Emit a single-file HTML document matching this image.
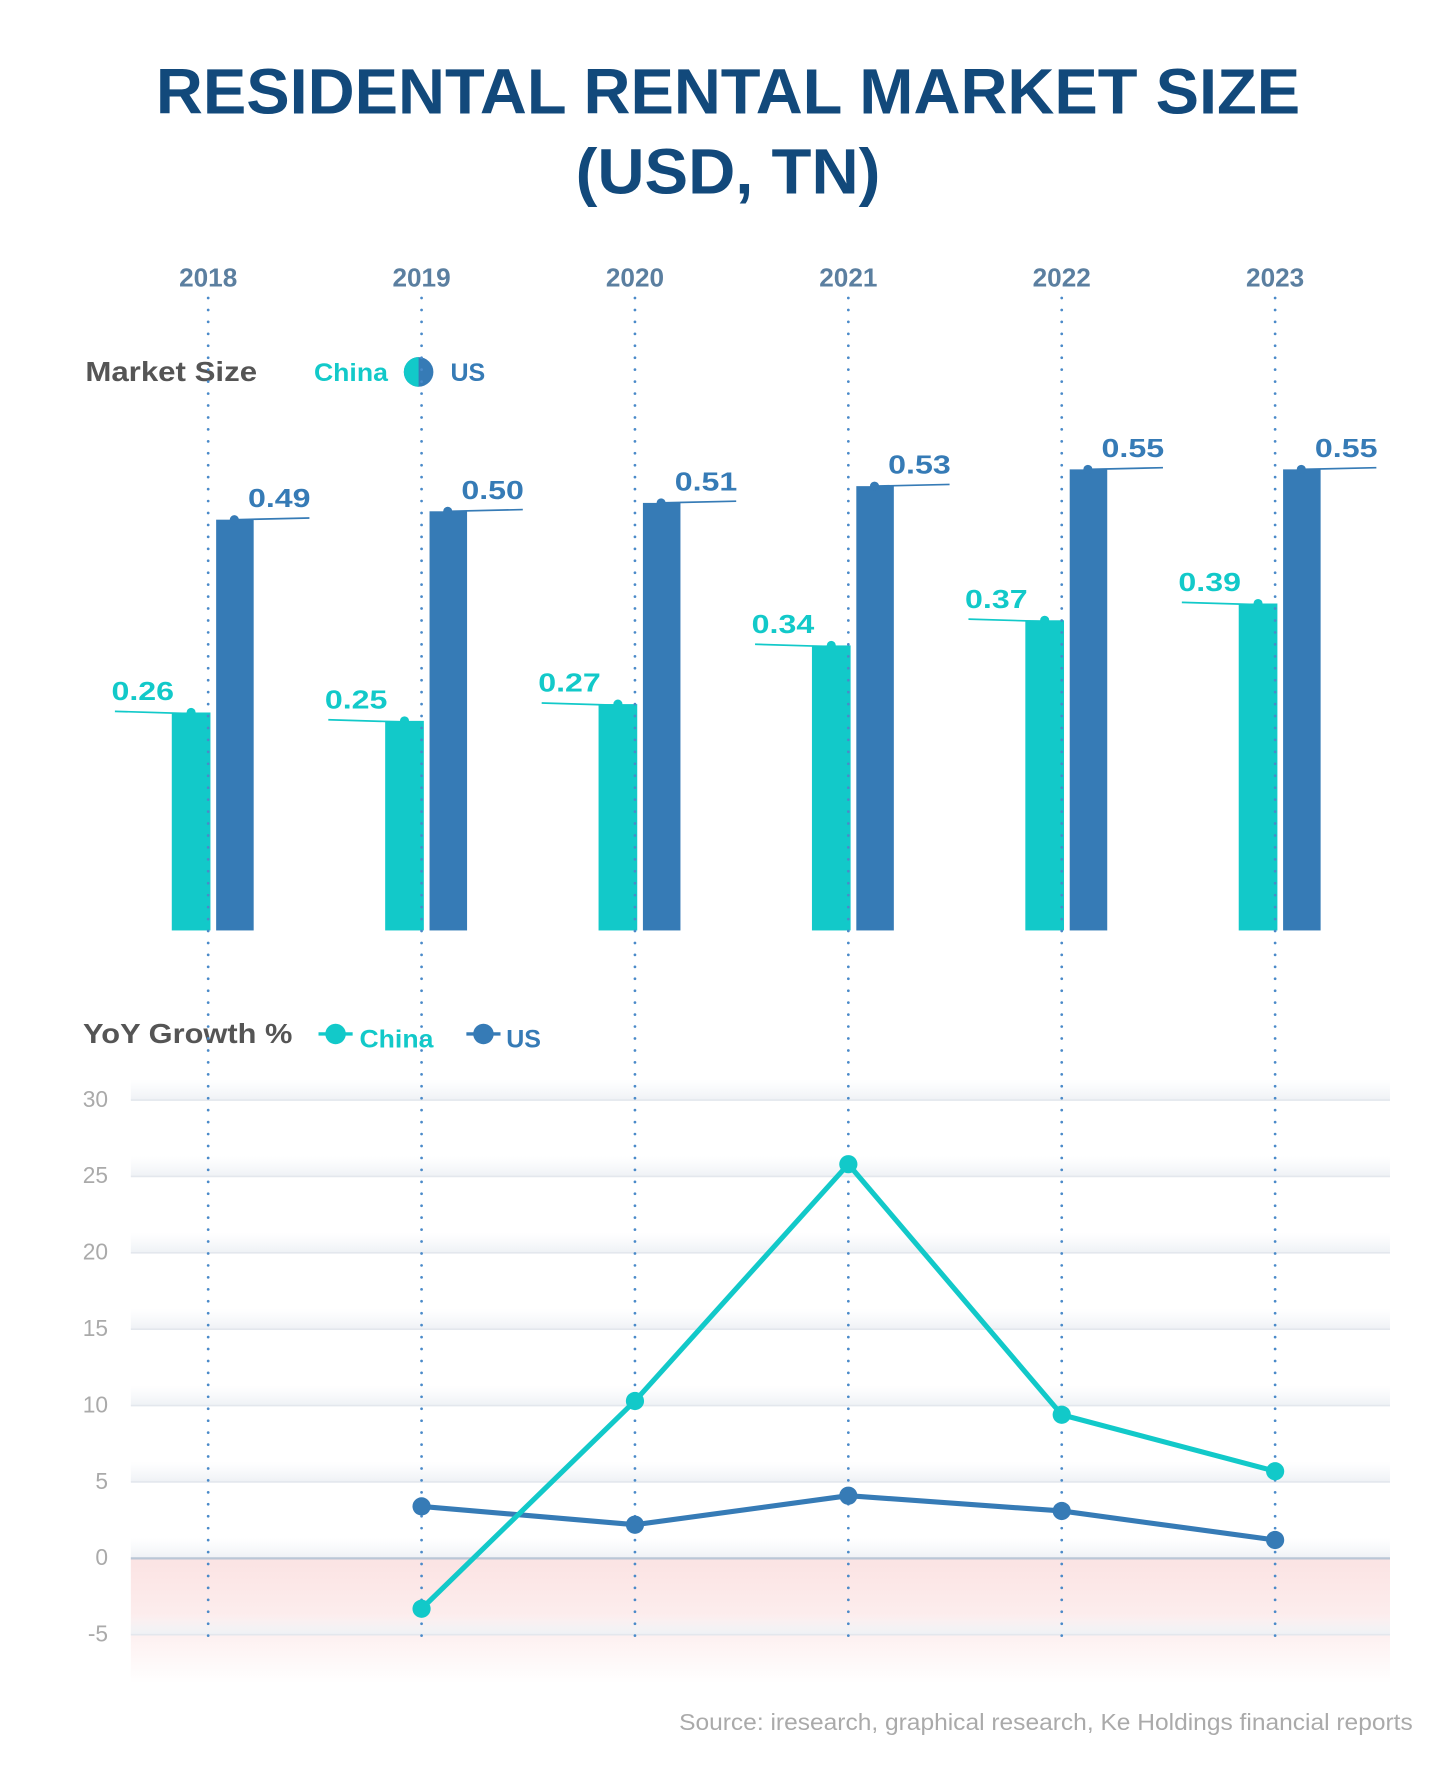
<!DOCTYPE html>
<html><head><meta charset="utf-8"><style>
html,body{margin:0;padding:0;background:#fff;}
svg{display:block;font-family:"Liberation Sans",sans-serif;}
</style></head><body>
<svg id="chart" width="1456" height="1784" viewBox="0 0 1280 1568.4" xmlns="http://www.w3.org/2000/svg">
<defs>
<linearGradient id="gridShade" x1="0" y1="0" x2="0" y2="1"><stop offset="0" stop-color="#f4f6f9" stop-opacity="0"/><stop offset="1" stop-color="#eef1f5" stop-opacity="1"/></linearGradient>
<linearGradient id="negBand" x1="0" y1="0" x2="0" y2="1"><stop offset="0" stop-color="#fbe3e3"/><stop offset="0.6" stop-color="#fdf0f0"/><stop offset="1" stop-color="#ffffff"/></linearGradient>
<clipPath id="halfL"><rect x="340" y="300" width="28" height="60"/></clipPath>
</defs>
<text x="640" y="100" text-anchor="middle" font-size="56" font-weight="bold" fill="#12497b" textLength="1006" lengthAdjust="spacingAndGlyphs">RESIDENTAL RENTAL MARKET SIZE</text>
<text x="640" y="170" text-anchor="middle" font-size="56" font-weight="bold" fill="#12497b" textLength="268" lengthAdjust="spacingAndGlyphs">(USD, TN)</text>
<g id="years"></g>
<text x="75" y="335" font-size="24" font-weight="bold" fill="#555" textLength="151" lengthAdjust="spacingAndGlyphs">Market Size</text>
<text x="276" y="335" font-size="22" font-weight="bold" fill="#12c9c9" textLength="65" lengthAdjust="spacingAndGlyphs">China</text>
<circle cx="368" cy="327" r="13" fill="#367bb6"/>
<circle cx="368" cy="327" r="13" fill="#12c9c9" clip-path="url(#halfL)"/>
<text x="396" y="335" font-size="22" font-weight="bold" fill="#367bb6">US</text>
<g id="bars"></g>
<text x="73" y="917" font-size="24" font-weight="bold" fill="#555" textLength="184" lengthAdjust="spacingAndGlyphs">YoY Growth %</text>
<line x1="280" y1="909" x2="310" y2="909" stroke="#12c9c9" stroke-width="3"/>
<circle cx="295" cy="909" r="9" fill="#12c9c9"/>
<text x="316" y="921" font-size="22" font-weight="bold" fill="#12c9c9" textLength="65" lengthAdjust="spacingAndGlyphs">China</text>
<line x1="410" y1="909" x2="440" y2="909" stroke="#367bb6" stroke-width="3"/>
<circle cx="425" cy="909" r="9" fill="#367bb6"/>
<text x="445" y="921" font-size="22" font-weight="bold" fill="#367bb6">US</text>
<g id="grid"></g>
<g id="vlines"></g>
<g id="lines"></g>
<text x="1242" y="1521" text-anchor="end" font-size="20" fill="#aaa" textLength="645" lengthAdjust="spacingAndGlyphs">Source: iresearch, graphical research, Ke Holdings financial reports</text>
</svg>
<script>
const years = ['2018','2019','2020','2021','2022','2023'];
const chinaSize = [0.26,0.25,0.27,0.34,0.37,0.39];
const usSize = [0.49,0.50,0.51,0.53,0.55,0.55];
const chinaYoY = [null,-3.3,10.3,25.8,9.4,5.7];
const usYoY = [null,3.4,2.2,4.1,3.1,1.2];
const yTicks = [30,25,20,15,10,5,0,-5];

const NS='http://www.w3.org/2000/svg';
function mk(tag, attrs, parent, txt){const e=document.createElementNS(NS,tag);for(const k in attrs)e.setAttribute(k,attrs[k]);if(txt!==undefined)e.textContent=txt;parent.appendChild(e);return e;}
const xC = i => 183 + i*187.6;
const yBar = v => 818 - v*737;
const yLine = v => 1370 - v*13.43;
const C1='#12c9c9', C2='#367bb6';

const gy=document.getElementById('years'), gv=document.getElementById('vlines'), gb=document.getElementById('bars'), gg=document.getElementById('grid'), gl=document.getElementById('lines');

const band=mk('rect',{x:115,y:yLine(0),width:1107,height:yLine(-8.2)-yLine(0),fill:'url(#negBand)'},gg);


yTicks.forEach(t=>{
  const y=yLine(t);
  mk('rect',{x:115,y:y-18,width:1107,height:18,fill:'url(#gridShade)'},gg);
  const ln=mk('line',{x1:115,x2:1222,y1:y,y2:y,stroke:t===0?'#b9c6d6':'#e3e7ed',"stroke-width":t===0?2:1.5},gg);
  
  
  const lb=mk('text',{x:95,y:y+6,"text-anchor":'end',"font-size":20,fill:'#aaa'},gg,String(t));
  
  
});

years.forEach((yr,i)=>{
  const x=xC(i);
  const t=mk('text',{x:x,y:252,"text-anchor":'middle',"font-size":23,"font-weight":'bold',fill:'#5b7fa0'},gy,yr);
  
  
  const v=mk('line',{x1:x,x2:x,y1:262,y2:1440,stroke:'#4a8ac9',"stroke-width":2.4,"stroke-dasharray":'0 10.5',"stroke-linecap":'round'},gv);
  
  
  const cy=yBar(chinaSize[i]), uy=yBar(usSize[i]);
  const cb=mk('rect',{x:x-32,y:cy,width:34,height:818-cy,fill:C1},gb);
  
  
  const ub=mk('rect',{x:x+7,y:uy,width:33,height:818-uy,fill:C2},gb);
  
  
  mk('line',{x1:x-82,y1:cy-1,x2:x-15,y2:cy+1,stroke:C1,"stroke-width":1.5},gb);
  mk('circle',{cx:x-15,cy:cy,r:4,fill:C1},gb);
  const cl=mk('text',{x:x-85,y:cy-11,"font-size":23,"font-weight":'bold',fill:C1,textLength:55,lengthAdjust:'spacingAndGlyphs'},gb,chinaSize[i].toFixed(2));
  
  
  mk('line',{x1:x+23,y1:uy,x2:x+89,y2:uy-1.5,stroke:C2,"stroke-width":1.5},gb);
  mk('circle',{cx:x+23,cy:uy,r:4,fill:C2},gb);
  const ul=mk('text',{x:x+35,y:uy-11,"font-size":23,"font-weight":'bold',fill:C2,textLength:55,lengthAdjust:'spacingAndGlyphs'},gb,usSize[i].toFixed(2));
  
  
});

function series(vals,color,name){
  const pts=[];vals.forEach((v,i)=>{if(v!==null)pts.push([xC(i),yLine(v),i]);});
  const p=mk('polyline',{points:pts.map(p=>p[0]+','+p[1]).join(' '),fill:'none',stroke:color,"stroke-width":4.5,"stroke-linejoin":'round'},gl);
  
  
  pts.forEach(q=>{
    const c=mk('circle',{cx:q[0],cy:q[1],r:8,fill:color},gl);
    
    
  });
}
series(usYoY,C2,'us');
series(chinaYoY,C1,'china');
</script>
</body></html>
